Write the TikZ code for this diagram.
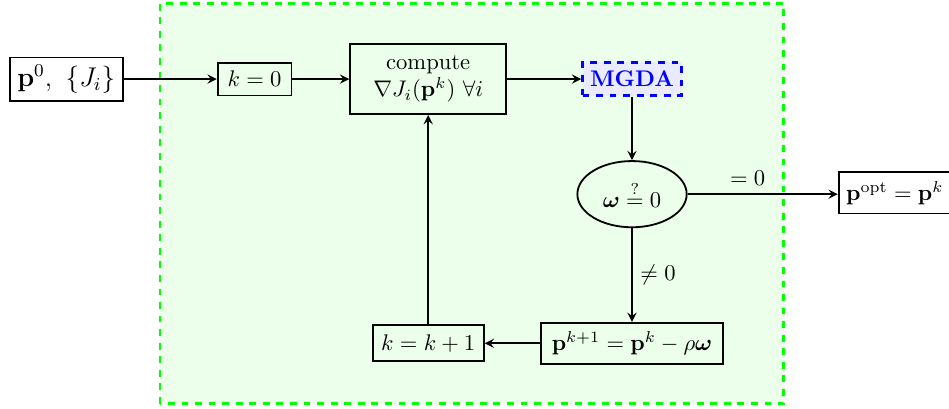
\documentclass[tikz,border=0pt]{standalone}
\usepackage{amsmath}
\usepackage{amssymb}
\usepackage{tikz}
\usepackage{xcolor}
\usetikzlibrary{positioning, calc, shapes.geometric}

\begin{document}
\begin{tikzpicture}[box/.style={draw,thick},
        link/.style={thick,-stealth}]
        \useasboundingbox (0,0) rectangle (14.76,6.36);
        \draw[very thick, dashed, green, fill=green!8] (2.49,0.08) rectangle (12.19,6.31);
        \node[box,font=\large] (init) at (1.03,5.13) {\(\mathbf{p}^0,\ \{J_i\}\)};
        \node[box,fill=green!8,minimum width=1.15cm,minimum height=0.51cm] (k0) at (3.96,5.13) {\(k=0\)};
        \node[box,fill=green!8,align=center,minimum width=2.43cm,minimum height=1.09cm] (grad) at (6.66,5.13) {compute\\\(\nabla J_i(\mathbf{p}^k)\ \forall i\)};
        \node[draw,very thick,dashed,blue,fill=blue!8,font=\bfseries,minimum height=0.52cm] (mgda) at (9.83,5.13) {MGDA};
        \node[ellipse,draw,thick,fill=green!8,minimum width=1.7cm,minimum height=1.03cm] (test) at (9.83,3.34) {\(\boldsymbol{\omega}\overset{?}{=}0\)};
        \node[box,fill=white,anchor=west,minimum height=0.64cm] (opt) at (13.03,3.36) {\(\mathbf{p}^{\text{opt}}=\mathbf{p}^k\)};
        \node[box,fill=green!8,minimum width=2.83cm,minimum height=0.64cm] (upd) at (9.83,1.02) {\(\mathbf{p}^{k+1}=\mathbf{p}^k-\rho\boldsymbol{\omega}\)};
        \node[box,fill=green!8,minimum width=1.73cm,minimum height=0.56cm] (inc) at (6.66,1.02) {\(k=k+1\)};
        \draw[link] (init) -- (k0);
        \draw[link] (k0) -- (grad);
        \draw[link] (grad) -- (mgda);
        \draw[link] (mgda) -- (test);
        \draw[link] (test) -- node[above,pos=0.4] {\(=0\)} (opt.west |- test);
        \draw[link] (test) -- node[right] {\(\neq 0\)} (upd);
        \draw[link] (upd) -- (inc);
        \draw[link] (inc) -- (grad);
    \end{tikzpicture}
\end{document}
